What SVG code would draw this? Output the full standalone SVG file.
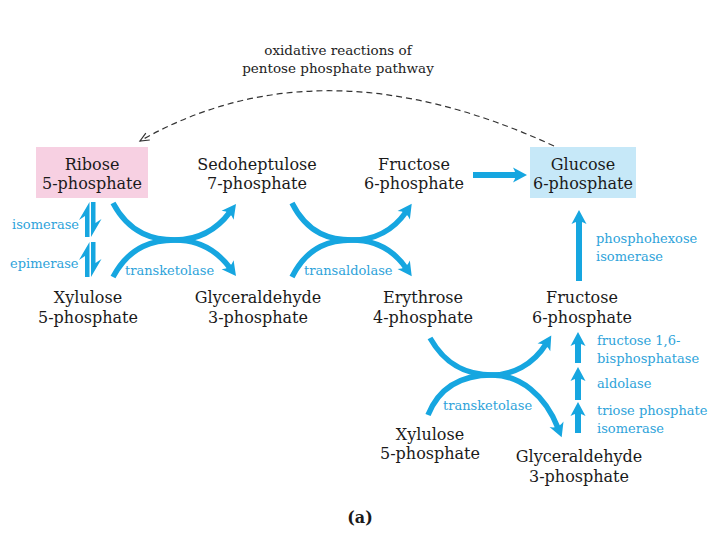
<svg xmlns="http://www.w3.org/2000/svg" width="720" height="540" viewBox="0 0 720 540">
<style>
.t{font-family:"DejaVu Serif","Liberation Serif",serif;font-size:16px;fill:#1a1a1a;text-anchor:middle}
.e{font-family:"DejaVu Serif","Liberation Serif",serif;font-size:13px;fill:#2ea3da}
.top{font-family:"DejaVu Serif","Liberation Serif",serif;font-size:13.5px;fill:#222;text-anchor:middle}
.c{fill:none;stroke:#16a6e0;stroke-width:5.5}
.s{fill:none;stroke:#16a6e0;stroke-width:6}
.h{fill:#16a6e0}
</style>
<defs>
<marker id="ah" markerUnits="userSpaceOnUse" markerWidth="20" markerHeight="20" viewBox="0 -10 20 20" refX="6" refY="0" orient="auto">
<path d="M16,0 L2,-7.5 Q7,0 2,7.5 Z" fill="#16a6e0"/>
</marker>
<marker id="dh" markerUnits="userSpaceOnUse" markerWidth="12" markerHeight="12" viewBox="-1 -6 12 12" refX="9" refY="0" orient="auto">
<path d="M0,-4 L9,0 L0,4" fill="none" stroke="#333" stroke-width="1.2"/>
</marker>
</defs>
<rect width="720" height="540" fill="#fff"/>

<g id="oxidative-label">
<text class="top" x="338" y="55">oxidative reactions of</text>
<text class="top" x="338" y="73">pentose phosphate pathway</text>
</g>

<g id="ribose5p">
<rect x="36" y="147" width="112" height="51" fill="#f7d0e2"/>
<text class="t" x="92" y="170">Ribose</text>
<text class="t" x="92" y="189">5-phosphate</text>
</g>
<g id="sedoheptulose7p">
<text class="t" x="257" y="170">Sedoheptulose</text>
<text class="t" x="257" y="189">7-phosphate</text>
</g>
<g id="fructose6p-top">
<text class="t" x="414" y="170">Fructose</text>
<text class="t" x="414" y="189">6-phosphate</text>
</g>
<g id="glucose6p">
<rect x="530" y="147" width="106" height="51" fill="#c6e8f8"/>
<text class="t" x="583" y="170">Glucose</text>
<text class="t" x="583" y="189">6-phosphate</text>
</g>
<g id="xylulose5p">
<text class="t" x="88" y="303">Xylulose</text>
<text class="t" x="88" y="323">5-phosphate</text>
</g>
<g id="glyceraldehyde3p">
<text class="t" x="258" y="303">Glyceraldehyde</text>
<text class="t" x="258" y="323">3-phosphate</text>
</g>
<g id="erythrose4p">
<text class="t" x="423" y="303">Erythrose</text>
<text class="t" x="423" y="323">4-phosphate</text>
</g>
<g id="fructose6p-right">
<text class="t" x="582" y="303">Fructose</text>
<text class="t" x="582" y="323">6-phosphate</text>
</g>
<g id="xylulose5p-lower">
<text class="t" x="430" y="440">Xylulose</text>
<text class="t" x="430" y="459">5-phosphate</text>
</g>
<g id="glyceraldehyde3p-lower">
<text class="t" x="579" y="462">Glyceraldehyde</text>
<text class="t" x="579" y="482">3-phosphate</text>
</g>

<g id="connectors">
<path d="M554,146 Q320,38 140,141" fill="none" stroke="#333" stroke-width="1.2" stroke-dasharray="6,4" marker-end="url(#dh)"/>
<!-- isomerase / epimerase harpoons -->
<path class="h" d="M89.5,202 L89.5,237 L85,237 L85,216 L79,220 Z"/>
<path class="h" d="M91,237 L91,202 L95.5,202 L95.5,223 L101.5,219 Z"/>
<path class="h" d="M89.5,242 L89.5,277 L85,277 L85,256 L79,260 Z"/>
<path class="h" d="M91,277 L91,242 L95.5,242 L95.5,263 L101.5,259 Z"/>
<!-- transketolase 1 -->
<path class="c" d="M113,203 C130,235 155,240 175,240 C195,240 215,232 230,212" marker-end="url(#ah)"/>
<path class="c" d="M113,277 C130,245 155,240 175,240 C195,240 215,248 230,268" marker-end="url(#ah)"/>
<!-- transaldolase -->
<path class="c" d="M292,203 C308,235 332,240 352,240 C372,240 392,232 406,212" marker-end="url(#ah)"/>
<path class="c" d="M292,277 C308,245 332,240 352,240 C372,240 392,248 406,268" marker-end="url(#ah)"/>
<!-- F6P -> G6P -->
<path class="s" d="M473,175 L517,175" marker-end="url(#ah)"/>
<!-- phosphohexose isomerase -->
<path class="s" d="M579,281 L579,220" marker-end="url(#ah)"/>
<!-- transketolase 2 -->
<path class="c" d="M430,338 C447,368 470,375 492,375 C512,375 533,365 546,344" marker-end="url(#ah)"/>
<path class="c" d="M428,415 C440,385 465,375 492,375 C520,375 545,395 558,428" marker-end="url(#ah)"/>
<!-- gluconeogenic steps -->
<path class="s" d="M578,363 L578,342" marker-end="url(#ah)"/>
<path class="s" d="M578,400 L578,377" marker-end="url(#ah)"/>
<path class="s" d="M578,433 L578,412" marker-end="url(#ah)"/>
</g>

<g id="enzyme-labels">
<text class="e" x="12" y="229">isomerase</text>
<text class="e" x="10" y="268">epimerase</text>
<text class="e" x="125" y="275">transketolase</text>
<text class="e" x="304" y="275">transaldolase</text>
<text class="e" x="596" y="243">phosphohexose</text>
<text class="e" x="596" y="261">isomerase</text>
<text class="e" x="443" y="410">transketolase</text>
<text class="e" x="597" y="345">fructose 1,6-</text>
<text class="e" x="597" y="363">bisphosphatase</text>
<text class="e" x="597" y="388">aldolase</text>
<text class="e" x="597" y="415">triose phosphate</text>
<text class="e" x="597" y="433">isomerase</text>
</g>

<g id="panel-label">
<text x="360" y="523" style="font-family:'DejaVu Serif','Liberation Serif',serif;font-size:16px;font-weight:bold;fill:#1a1a1a;text-anchor:middle">(a)</text>
</g>
</svg>
